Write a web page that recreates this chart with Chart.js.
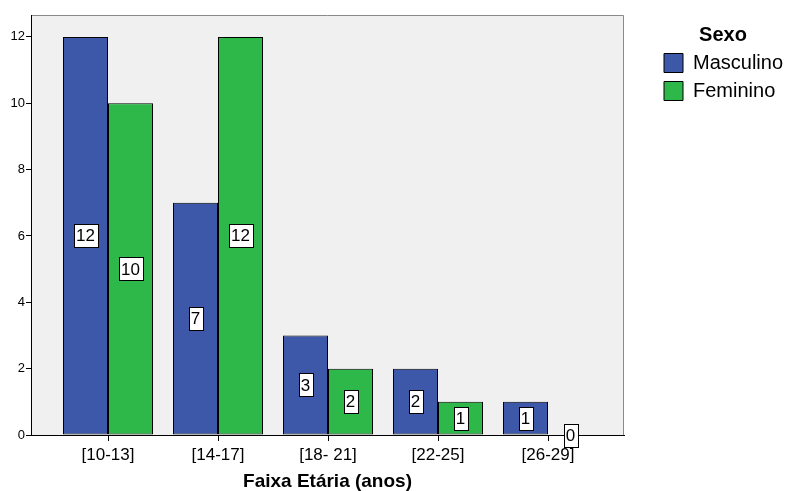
<!DOCTYPE html>
<html>
<head>
<meta charset="utf-8">
<script src="https://cdn.jsdelivr.net/npm/chart.js@4/dist/chart.umd.min.js"></script>
<style>
  html, body { margin: 0; padding: 0; background: #ffffff; }
  #wrap { width: 787px; height: 491px; position: relative; }
</style>
</head>
<body>
<div id="wrap"><canvas id="c" width="787" height="491"></canvas></div>
<script>
// ---- data ----
const categories = ['[10-13]', '[14-17]', '[18- 21]', '[22-25]', '[26-29]'];
const masculino = [12, 7, 3, 2, 1];
const feminino = [10, 12, 2, 1, 0];
const seriesNames = ['Masculino', 'Feminino'];
const legendTitle = 'Sexo';
const xTitle = 'Faixa Etária (anos)';
const yTickStep = 2;

const FONT = "'Liberation Sans', Arial, Helvetica, sans-serif";
Chart.defaults.font.family = FONT;
Chart.defaults.color = '#000000';

// background of plot area + gray top/right frame
const framePlugin = {
  id: 'frame',
  beforeDraw(chart) {
    const { ctx, chartArea: a } = chart;
    ctx.save();
    ctx.fillStyle = '#f0f0f0';
    ctx.fillRect(a.left, a.top, a.right - a.left, a.bottom - a.top);
    ctx.strokeStyle = '#8a8a8a';
    ctx.lineWidth = 1;
    ctx.beginPath();
    ctx.moveTo(a.left, Math.round(a.top) + 0.5);
    ctx.lineTo(Math.round(a.right) - 0.5, Math.round(a.top) + 0.5);
    ctx.lineTo(Math.round(a.right) - 0.5, a.bottom);
    ctx.stroke();
    ctx.restore();
  }
};

// boxed value labels in the middle of each bar
const valueLabels = {
  id: 'valueLabels',
  afterDatasetsDraw(chart) {
    const { ctx } = chart;
    ctx.save();
    ctx.font = '17px ' + FONT;
    ctx.textAlign = 'center';
    ctx.textBaseline = 'middle';
    chart.data.datasets.forEach((ds, i) => {
      const meta = chart.getDatasetMeta(i);
      meta.data.forEach((bar, j) => {
        const v = ds.data[j].y;
        const txt = String(v);
        const cx = bar.x;
        const cy = (bar.y + bar.base) / 2;
        const w = Math.round(ctx.measureText(txt).width + 5);
        const h = 23;
        const x0 = Math.round(cx - w / 2) + 0.5;
        const y0 = Math.round(cy - h / 2) + 0.5;
        ctx.fillStyle = '#ffffff';
        ctx.fillRect(x0, y0, w, h);
        ctx.strokeStyle = '#000000';
        ctx.lineWidth = 1;
        ctx.strokeRect(x0, y0, w, h);
        ctx.fillStyle = '#000000';
        ctx.fillText(txt, cx, cy + 1);
      });
    });
    ctx.restore();
  }
};

// legend placement: reserve fixed space on the right, then indent the legend
const legendPlace = {
  id: 'legendPlace',
  beforeLayout(chart) {
    const lg = chart.legend;
    if (lg && !lg._patched) {
      const orig = lg.fit.bind(lg);
      lg.fit = function () { orig(); this.width = 163; };
      lg._patched = true;
    }
  },
  afterLayout(chart) {
    const lg = chart.legend;
    if (!lg) return;
    lg.left = chart.chartArea.right + 32;
    lg.right = chart.width + 3;
    lg.width = lg.right - lg.left;
  }
};

const ds = (name, vals, color) => ({
  label: name,
  data: vals.map((v, i) => ({ x: i, y: v })),
  backgroundColor: color,
  borderColor: '#000000',
  borderWidth: 1,
  borderSkipped: false,
  categoryPercentage: 90 / 110,
  barPercentage: 1.0
});

new Chart(document.getElementById('c'), {
  type: 'bar',
  data: {
    datasets: [
      ds(seriesNames[0], masculino, '#3d57a9'),
      ds(seriesNames[1], feminino, '#2fb84a')
    ]
  },
  options: {
    responsive: false,
    animation: false,
    events: [],
    layout: { padding: { top: 15, left: 0, right: 0, bottom: 0 } },
    plugins: {
      tooltip: { enabled: false },
      legend: {
        display: true,
        position: 'right',
        align: 'start',
        title: {
          display: true,
          text: legendTitle,
          color: '#000000',
          font: { size: 20, weight: 'bold', lineHeight: 1 },
          padding: { top: 10, bottom: 0 }
        },
        labels: {
          color: '#000000',
          font: { size: 20 },
          boxWidth: 19,
          boxHeight: 19,
          padding: 8
        }
      }
    },
    scales: {
      x: {
        type: 'linear',
        offset: false,
        min: -77 / 110,
        max: 516 / 110,
        afterBuildTicks(scale) {
          scale.ticks = categories.map((_, i) => ({ value: i }));
        },
        afterFit(scale) { scale.height = 56; },
        ticks: {
          autoSkip: false,
          maxRotation: 0,
          padding: 4,
          color: '#000000',
          font: { size: 17 },
          callback: (v) => categories[v]
        },
        grid: {
          offset: false,
          drawOnChartArea: false,
          drawTicks: true,
          tickLength: 6,
          color: '#000000'
        },
        border: { display: true, color: '#000000', width: 1 },
        title: {
          display: true,
          text: xTitle,
          color: '#000000',
          font: { size: 19, weight: 'bold', lineHeight: 1 },
          padding: { top: 0, bottom: 0 }
        }
      },
      y: {
        type: 'linear',
        min: 0,
        max: 12.66,
        afterFit(scale) { scale.width = 31; },
        ticks: {
          stepSize: yTickStep,
          includeBounds: false,
          padding: 1,
          color: '#000000',
          font: { size: 13 }
        },
        grid: {
          drawOnChartArea: false,
          drawTicks: true,
          tickLength: 5,
          color: '#000000'
        },
        border: { display: true, color: '#000000', width: 1 }
      }
    }
  },
  plugins: [framePlugin, valueLabels, legendPlace]
});
</script>
</body>
</html>
